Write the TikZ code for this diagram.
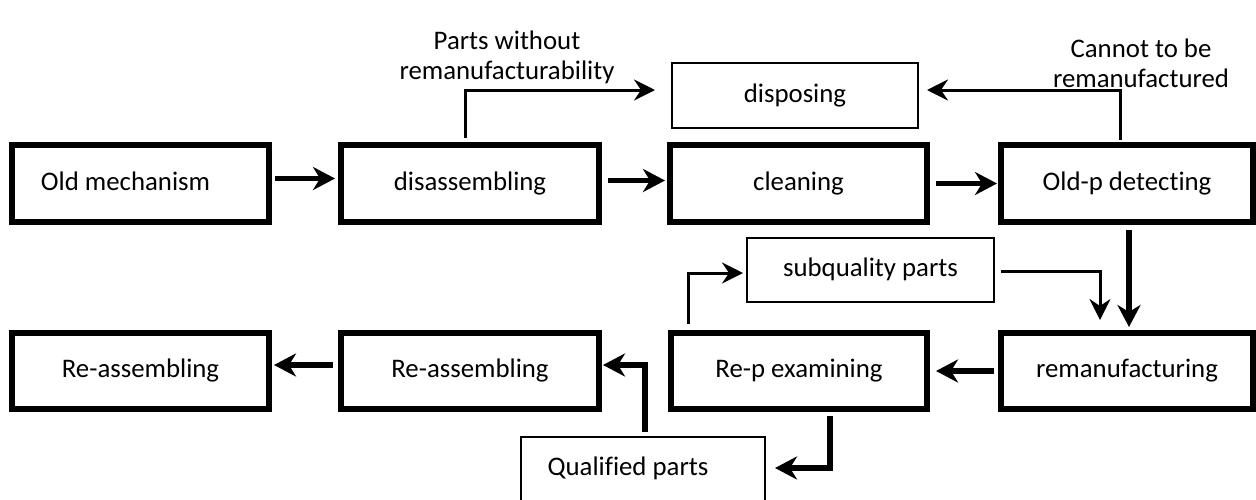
\documentclass[tikz,border=0pt]{standalone}
\usepackage{fontspec}
\setmainfont{Carlito}[Ligatures=NoCommon]
\usetikzlibrary{arrows.meta}
\begin{document}
\begin{tikzpicture}[x=1pt,y=-1pt,
  every node/.style={font=\fontsize{26.8}{30}\selectfont},
  tbox/.style={draw, line width=6pt, minimum height=77pt, inner sep=0pt, text height=18pt, text depth=5pt},
  nbox/.style={draw, line width=2pt, inner sep=0pt, text height=18pt, text depth=5pt},
  tarr/.style={line width=5.5pt, -{Stealth[length=22pt,width=23pt,inset=7pt]}},
  marr/.style={line width=3pt, -{Stealth[length=21pt,width=21pt,inset=7pt]}},
  lbl/.style={align=center, inner sep=0pt}]
\useasboundingbox (0,0) rectangle (1256,499);
\clip (0,0) rectangle (1256,499);
% top row
\node[tbox, minimum width=257pt] (old) at (140.5,183.5) {Old mechanism\hspace*{30pt}};
\node[tbox, minimum width=258pt] (dis) at (470,183.5) {disassembling};
\node[tbox, minimum width=257pt] (clean) at (798.5,183.5) {cleaning};
\node[tbox, minimum width=252pt] (oldp) at (1127,183.5) {Old-p detecting};
\node[nbox, minimum width=246pt, minimum height=65pt] (disp) at (795,95.5) {disposing};
% middle
\node[nbox, minimum width=247pt, minimum height=64pt] (subq) at (870.5,270) {subquality parts};
% second row
\node[tbox, minimum width=257pt, minimum height=76pt] (rea1) at (140.5,371) {Re-assembling};
\node[tbox, minimum width=258pt, minimum height=76pt] (rea2) at (470,371) {Re-assembling};
\node[tbox, minimum width=256pt, minimum height=76pt] (rep) at (799,371) {Re-p examining};
\node[tbox, minimum width=252pt, minimum height=76pt] (reman) at (1127,371) {remanufacturing};
% bottom
\node[nbox, minimum width=244pt, minimum height=83pt] (qual) at (643,478.5) {};
\node[inner sep=0pt] (qualtxt) at (628,468) {Qualified parts};
% labels
\node[lbl] (l1) at (507,57) {Parts without\\remanufacturability};
\node[lbl] (l2) at (1141,63) {Cannot to be\\remanufactured};
% arrows
\draw[tarr] ([xshift=3pt,yshift=5pt]old.east) -- ([xshift=-3pt,yshift=5pt]dis.west);
\draw[tarr] ([xshift=6pt,yshift=3pt]dis.east) -- ([xshift=-2pt,yshift=3pt]clean.west);
\draw[tarr] ([xshift=6pt]clean.east) -- ([xshift=-1pt]oldp.west);
\draw[marr] ([xshift=-5pt,yshift=4pt]dis.north) |- ([xshift=-16pt,yshift=5.5pt]disp.west);
\draw[marr] ([xshift=-7pt,yshift=2pt]oldp.north) |- ([xshift=8pt,yshift=5.5pt]disp.east);
\draw[tarr] ([xshift=2pt,yshift=-5pt]oldp.south) -- ([xshift=2pt,yshift=3pt]reman.north);
\draw[marr] ([xshift=-111pt,yshift=6pt]rep.north) |- ([xshift=-3pt,yshift=-3pt]subq.west);
\draw[marr] ([xshift=6pt,yshift=-1pt]subq.east) -| ([xshift=-27pt,yshift=10pt]reman.north);
\draw[tarr] ([xshift=-4pt]reman.west) -- ([xshift=6pt]rep.east);
\draw[tarr] ([xshift=31pt,yshift=-4pt]rep.south) |- ([xshift=9pt,yshift=10.5pt]qual.east);
\draw[tarr] ([xshift=2pt,yshift=4pt]qual.north) |- ([xshift=1pt,yshift=6pt]rea2.east);
\draw[tarr] ([xshift=-5pt,yshift=6pt]rea2.west) -- ([xshift=2pt,yshift=6pt]rea1.east);
\end{tikzpicture}
\end{document}
